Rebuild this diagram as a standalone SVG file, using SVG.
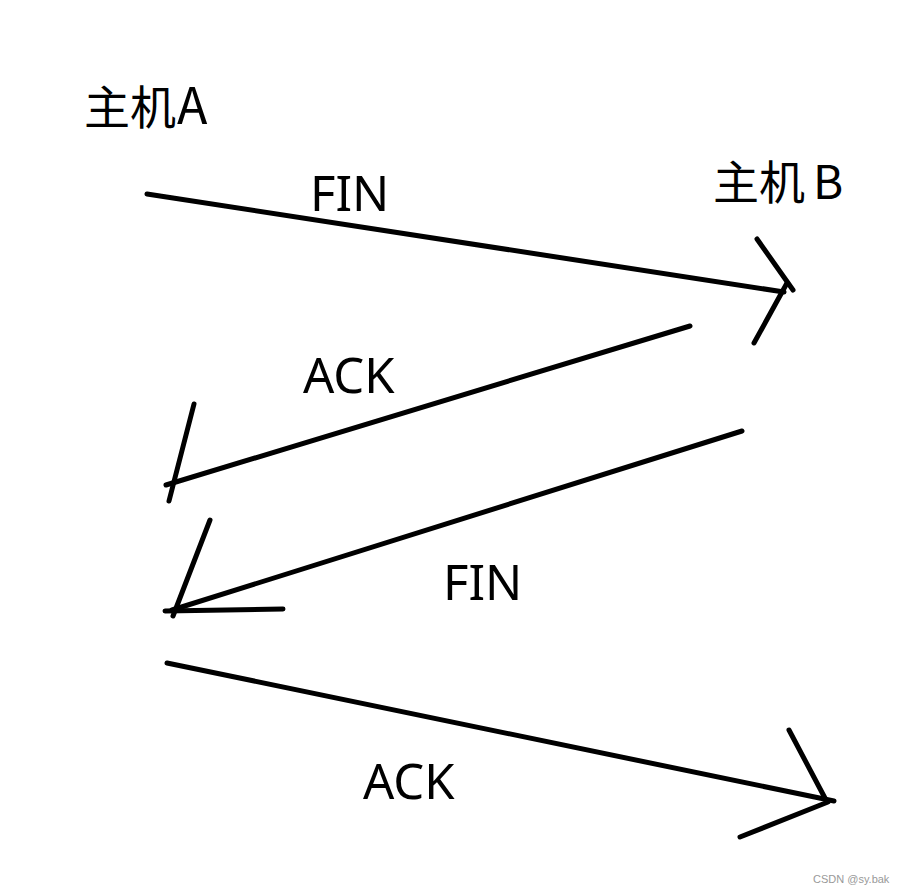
<svg xmlns="http://www.w3.org/2000/svg" width="905" height="895" viewBox="0 0 905 895">
<style>
.ln{stroke:#000;stroke-width:5;stroke-linecap:round;fill:none}
.lbl{font-family:"Noto Sans","Noto Sans CJK SC",sans-serif;font-size:49px;fill:#000}
.host{font-family:"Noto Sans CJK SC","Noto Sans",sans-serif;font-size:46px;fill:#000}
.wm{font-family:"Liberation Sans",Arial,sans-serif;font-size:11px;fill:#999}
</style>
<rect width="905" height="895" fill="#fff"/>
<g id="hostA"><text class="host" x="84" y="124">主机<tspan dx="1" font-size="50">A</tspan></text></g>
<g id="hostB"><text class="host" x="713" y="199">主机<tspan dx="8">B</tspan></text></g>
<g id="connectors">
<g id="fin1">
<line class="ln" x1="147" y1="194" x2="784" y2="292"/>
<line class="ln" x1="757" y1="239" x2="793" y2="290"/>
<line class="ln" x1="787" y1="283" x2="754" y2="343"/>
</g>
<g id="ack1">
<line class="ln" x1="690" y1="326" x2="166" y2="485"/>
<line class="ln" x1="194" y1="404" x2="169" y2="501"/>
</g>
<g id="fin2">
<line class="ln" x1="742" y1="431" x2="172" y2="610"/>
<line class="ln" x1="210" y1="520" x2="173" y2="616"/>
<line class="ln" x1="165" y1="611" x2="283" y2="609"/>
</g>
<g id="ack2">
<line class="ln" x1="167" y1="663" x2="834" y2="801"/>
<line class="ln" x1="789" y1="730" x2="826" y2="800"/>
<line class="ln" x1="828" y1="802" x2="740" y2="837"/>
</g>
</g>
<g id="label-fin1"><text class="lbl" x="310" y="211">FIN</text></g>
<g id="label-ack1"><text class="lbl" x="303" y="393">ACK</text></g>
<g id="label-fin2"><text class="lbl" x="443" y="600">FIN</text></g>
<g id="label-ack2"><text class="lbl" x="363" y="799">ACK</text></g>
<text class="wm" x="813" y="883">CSDN @sy.bak</text>
</svg>
